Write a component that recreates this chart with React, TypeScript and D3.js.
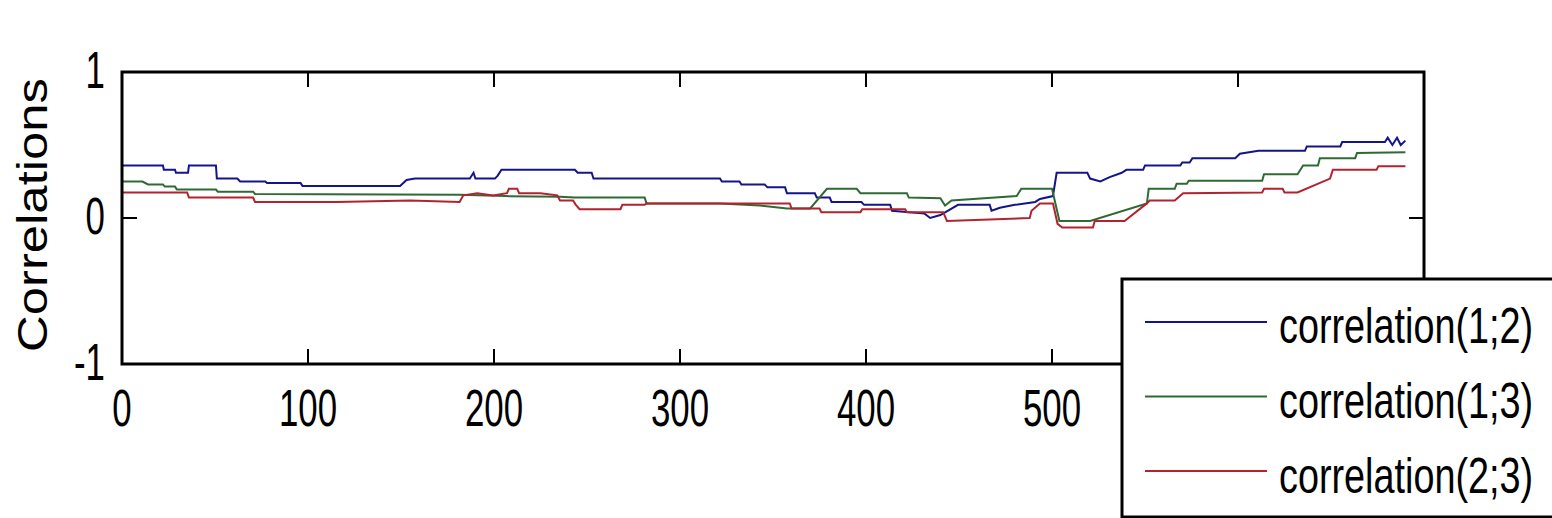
import React from 'react';
import * as d3 from 'd3';

// [sample index, correlation]
const corr12: [number, number][] = [
  [0, 0.36], [22, 0.36], [22.5, 0.33], [28.5, 0.33], [29, 0.31], [35.5, 0.31], [36, 0.36],
  [50.5, 0.36], [51, 0.27], [62, 0.27], [63.5, 0.25], [77, 0.25], [78, 0.24], [96, 0.24],
  [97, 0.22], [149.5, 0.22], [153, 0.26], [157.5, 0.27], [187, 0.27], [189, 0.31], [190, 0.27],
  [200.5, 0.27], [202, 0.29], [204, 0.33], [243.5, 0.33], [245, 0.31], [252.5, 0.31],
  [253.5, 0.27], [321.5, 0.27], [322.5, 0.25], [332, 0.25], [333, 0.23], [345.5, 0.23],
  [347, 0.21], [356.5, 0.21], [357.5, 0.17], [372.5, 0.17], [373.5, 0.14], [380.5, 0.14],
  [381.5, 0.11], [397.5, 0.11], [399, 0.09], [413, 0.09], [414, 0.05], [431.5, 0.03],
  [434.5, 0.0], [440, 0.02], [449.5, 0.09], [466.5, 0.09], [467.5, 0.05], [472, 0.07],
  [480, 0.09], [491, 0.11], [493.5, 0.13], [500.5, 0.15], [502.5, 0.31], [519, 0.31],
  [520.5, 0.27], [526, 0.25], [531, 0.28], [537.5, 0.31], [540, 0.33], [549, 0.33],
  [550, 0.36], [569, 0.36], [570, 0.38], [574, 0.38], [575.5, 0.41], [598.5, 0.41],
  [601, 0.44], [611, 0.46], [636, 0.46], [637, 0.49], [655, 0.49], [656, 0.52], [679, 0.52],
  [680.5, 0.55], [683, 0.5], [685.5, 0.55], [687.5, 0.5], [690, 0.53],
];

const corr13: [number, number][] = [
  [0, 0.25], [11, 0.25], [14, 0.23], [22, 0.23], [23, 0.215], [28.5, 0.215], [29.5, 0.195],
  [50.5, 0.195], [51.5, 0.18], [70.5, 0.18], [71.5, 0.165], [181.5, 0.16], [206, 0.15],
  [235.5, 0.145], [243.5, 0.14], [281, 0.14], [282, 0.1], [321.5, 0.1], [343, 0.085],
  [357.5, 0.065], [370, 0.065], [379, 0.2], [395, 0.2], [397, 0.17], [422, 0.17], [423, 0.14],
  [440, 0.135], [442.5, 0.085], [446, 0.12], [481, 0.15], [483.5, 0.2], [500, 0.2],
  [504, -0.02], [520.5, -0.02], [551, 0.1], [552, 0.2], [566, 0.2], [567, 0.235],
  [572.5, 0.235], [573.5, 0.255], [613, 0.255], [614, 0.3], [632, 0.3], [635, 0.36],
  [643, 0.36], [644, 0.41], [663, 0.41], [664, 0.445], [690, 0.45],
];

const corr23: [number, number][] = [
  [0, 0.175], [35, 0.175], [36, 0.14], [70.5, 0.14], [71.5, 0.11], [115.5, 0.11], [155, 0.12],
  [181.5, 0.11], [183.5, 0.155], [191, 0.17], [199.5, 0.155], [207, 0.17], [208, 0.2],
  [212.5, 0.2], [213.5, 0.17], [225, 0.17], [234, 0.155], [235.5, 0.12], [242.5, 0.12],
  [244, 0.09], [246, 0.06], [268, 0.06], [269, 0.09], [281, 0.09], [282, 0.1], [359, 0.1],
  [360, 0.065], [375, 0.065], [376, 0.04], [397, 0.04], [398, 0.06], [421, 0.06], [422, 0.04],
  [441.5, 0.04], [443.5, -0.02], [488, 0.0], [489, 0.05], [493.5, 0.1], [500.5, 0.1],
  [503, -0.04], [505.5, -0.065], [522, -0.065], [523, -0.02], [539, -0.02], [551, 0.1],
  [552.5, 0.12], [566, 0.12], [570.5, 0.17], [613, 0.175], [614, 0.2], [624, 0.2],
  [625, 0.175], [632, 0.175], [649.5, 0.27], [651, 0.33], [674.5, 0.33], [675.5, 0.355],
  [690, 0.355],
];

const xTicks = [0, 100, 200, 300, 400, 500, 600, 700];
// labels for 600 and 700 sit under the legend box in the original, so only these show
const xTickLabels = [0, 100, 200, 300, 400, 500];
const yTicks = [-1, 0, 1];
const seriesNames = ['correlation(1;2)', 'correlation(1;3)', 'correlation(2;3)'];
const seriesColors = ['#14148c', '#2e6b34', '#b3232f'];

const App: React.FC = () => {
  const width = 1552;
  const height = 518;
  const box = { left: 122, right: 1424, top: 72, bottom: 364 };

  const x = d3.scaleLinear().domain([0, 700]).range([box.left, box.right]);
  const y = d3.scaleLinear().domain([-1, 1]).range([box.bottom, box.top]);

  const line = d3
    .line<[number, number]>()
    .x((d) => x(d[0]))
    .y((d) => y(d[1]));

  const allSeries = [corr12, corr13, corr23];
  const tickLen = 15;
  const font = 'Liberation Sans, Arial, sans-serif';
  // the original picture is squeezed sideways, so text is narrow
  const squeeze = 0.67;

  return (
    <svg
      width={width}
      height={height}
      style={{ position: 'absolute', left: 0, top: 0, background: '#fff' }}
    >
      <rect x={0} y={0} width={width} height={height} fill="#fff" />

      {/* data lines */}
      {allSeries.map((s, i) => (
        <path key={i} d={line(s) ?? ''} fill="none" stroke={seriesColors[i]} strokeWidth={2} />
      ))}

      {/* axes box */}
      <rect
        x={box.left}
        y={box.top}
        width={box.right - box.left}
        height={box.bottom - box.top}
        fill="none"
        stroke="#000"
        strokeWidth={3}
      />

      {/* ticks on all four sides, pointing inward */}
      {xTicks.map((t) => (
        <g key={'x' + t}>
          <line x1={x(t)} x2={x(t)} y1={box.bottom} y2={box.bottom - tickLen} stroke="#000" strokeWidth={2} />
          <line x1={x(t)} x2={x(t)} y1={box.top} y2={box.top + tickLen} stroke="#000" strokeWidth={2} />
        </g>
      ))}
      {xTickLabels.map((t) => (
        <text
          key={'xl' + t}
          transform={`translate(${x(t)}, 426) scale(${squeeze}, 1)`}
          textAnchor="middle"
          fontFamily={font}
          fontSize={52}
        >
          {t}
        </text>
      ))}

      {yTicks.map((t) => (
        <g key={'y' + t}>
          <line x1={box.left} x2={box.left + tickLen} y1={y(t)} y2={y(t)} stroke="#000" strokeWidth={2} />
          <line x1={box.right} x2={box.right - tickLen} y1={y(t)} y2={y(t)} stroke="#000" strokeWidth={2} />
          <text
            transform={`translate(105, ${y(t) + 16}) scale(${squeeze}, 1)`}
            textAnchor="end"
            fontFamily={font}
            fontSize={52}
          >
            {t}
          </text>
        </g>
      ))}

      <text
        transform="translate(47, 215) rotate(-90) scale(1.21, 1)"
        textAnchor="middle"
        fontFamily={font}
        fontSize={42}
      >
        Correlations
      </text>

      {/* legend */}
      <g>
        <rect x={1122} y={279} width={500} height={238} fill="#fff" stroke="#000" strokeWidth={3} />
        {seriesNames.map((name, i) => (
          <g key={name}>
            <line
              x1={1145}
              x2={1267}
              y1={322 + i * 74.5}
              y2={322 + i * 74.5}
              stroke={seriesColors[i]}
              strokeWidth={2}
            />
            <text
              transform={`translate(1279, ${343 + i * 75}) scale(0.756, 1)`}
              fontFamily={font}
              fontSize={50}
            >
              {name}
            </text>
          </g>
        ))}
      </g>
    </svg>
  );
};

export default App;
